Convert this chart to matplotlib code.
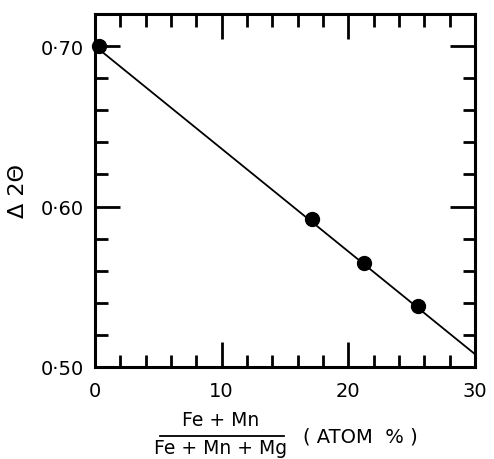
import matplotlib
matplotlib.use("Agg")
import matplotlib.pyplot as plt
from matplotlib.lines import Line2D
import numpy as np

# Data
comp = [0.3, 17.1, 21.2, 25.5]          # (Fe+Mn)/(Fe+Mn+Mg) atom %
delta2theta = [0.700, 0.592, 0.565, 0.538]
fit_x = [0, 30]
fit_y = [0.700, 0.508]
xticks_major = [0, 10, 20, 30]
xtick_labels = ["0", "10", "20", "30"]
yticks_major = [0.50, 0.60, 0.70]
ytick_labels = ["0·50", "0·60", "0·70"]

plt.rcParams['font.family'] = ['DejaVu Sans']

fig = plt.figure(figsize=(4.94, 4.60), dpi=100)
ax = fig.add_axes([95/494, 1-368/460, 380/494, 353/460])

ax.plot(fit_x, fit_y, color='black', lw=1.3, zorder=2)
ax.scatter(comp, delta2theta, s=100, color='black', zorder=3, clip_on=False)

ax.set_xlim(0, 30)
ax.set_ylim(0.50, 0.72)
ax.set_xticks(xticks_major)
ax.set_xticklabels(xtick_labels)
ax.set_xticks(np.arange(0, 31, 2), minor=True)
ax.set_yticks(yticks_major)
ax.set_yticklabels(ytick_labels)
ax.set_yticks(np.arange(0.50, 0.721, 0.02), minor=True)

for s in ax.spines.values():
    s.set_linewidth(2.2)
ax.tick_params(which='both', direction='in', top=True, right=True, width=2, labelsize=14, colors='black')
ax.tick_params(which='major', length=18, pad=8)
ax.tick_params(which='minor', length=9)
ax.tick_params(axis='x', which='major', pad=10)

ax.set_ylabel("Δ 2Θ", fontsize=16, labelpad=9)

# x label as fraction
fig.text(221/494, 1-421/460, "Fe + Mn", ha='center', va='center', fontsize=13.5)
fig.text(221/494, 1-449/460, "Fe + Mn + Mg", ha='center', va='center', fontsize=13.5)
fig.add_artist(Line2D([160/494, 284/494], [1-437/460, 1-437/460], color='black', lw=1.3))
fig.text(360/494, 1-437/460, "( ATOM  % )", ha='center', va='center', fontsize=14)

fig.savefig("out.png", dpi=100)
